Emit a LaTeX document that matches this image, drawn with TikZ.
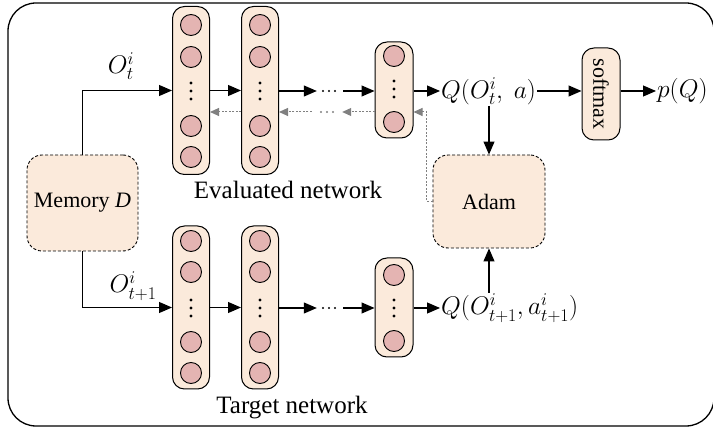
\RequirePackage{fix-cm}
\documentclass[tikz,border=0pt]{standalone}
\usepackage[no-math]{fontspec}
\setmainfont{Liberation Serif}
\usetikzlibrary{arrows.meta}
\definecolor{peach}{HTML}{FBEADB}
\definecolor{rose}{HTML}{E4B4B2}
\begin{document}
\begin{tikzpicture}[x=1pt,y=-1pt,
  col/.style={draw,fill=peach,rounded corners=12pt,minimum width=37pt,line width=1pt,inner sep=0pt},
  neuron/.style={circle,draw,fill=rose,minimum size=21pt,inner sep=0pt,line width=0.9pt},
  box/.style={draw,fill=peach,rounded corners=15pt,line width=0.9pt,dash pattern=on 3pt off 2pt,inner sep=0pt},
  arr/.style={-{Triangle[length=13pt,width=11pt]},line width=1.1pt},
  back/.style={-{Triangle[length=9pt,width=8pt]},draw=gray,dash pattern=on 2pt off 1.5pt,line width=1pt},
  lab/.style={font=\fontsize{25.5}{30}\selectfont,inner sep=1pt},
  txt/.style={font=\fontsize{22}{26}\selectfont},
  big/.style={font=\fontsize{25}{30}\selectfont,inner sep=0pt},
  dotsnode/.style={inner sep=0pt,minimum width=16pt,minimum height=3pt}]
\useasboundingbox (0,0) rectangle (713,430);
\draw[line width=1.3pt,rounded corners=28pt] (8,3) rectangle (714,426);

% evaluated network columns
\node[col,minimum height=168pt] (e1) at (191,90.5) {};
\node[col,minimum height=168pt] (e2) at (260,90.5) {};
\node[col,minimum height=96pt,minimum width=38pt] (e3) at (394,90) {};
\foreach \c in {e1,e2}{
  \foreach \y in {25,57,126,157}{\node[neuron] (\c n\y) at (\c |- 0,\y) {};}
  \foreach \d in {-8,0,8}{\fill (\c |- 0,91+\d) circle (1.6pt);}
}
\foreach \y in {56,122}{\node[neuron] (e3n\y) at (394,\y) {};}
\foreach \d in {-8,0,8}{\fill (394,89+\d) circle (1.6pt);}

% target network columns
\node[col,minimum height=163pt] (t1) at (191,307.5) {};
\node[col,minimum height=163pt] (t2) at (260,307.5) {};
\node[col,minimum height=99pt,minimum width=38pt] (t3) at (394,307.5) {};
\foreach \c in {t1,t2}{
  \foreach \y in {241,272,342,373}{\node[neuron] (\c n\y) at (\c |- 0,\y) {};}
  \foreach \d in {-8,0,8}{\fill (\c |- 0,308+\d) circle (1.6pt);}
}
\foreach \y in {275,341}{\node[neuron] (t3n\y) at (394,\y) {};}
\foreach \d in {-8,0,8}{\fill (394,308+\d) circle (1.6pt);}

% boxes
\node[box,minimum width=111pt,minimum height=96pt,txt] (mem) at (82.5,203) {Memory \textit{D}};
\node[box,minimum width=112pt,minimum height=93pt,txt] (adam) at (489,201.5) {Adam};
\node[draw,fill=peach,rounded corners=12pt,line width=1pt,rotate=-90,minimum width=92pt,minimum height=38pt,inner sep=0pt,txt] (sm) at (601,94) {softmax};

% labels
\node[lab] (lo) at (121,66) {$O_t^i$};
\node[lab] (lo2) at (133,286) {$O_{t+1}^i$};
\node[lab,anchor=west] (q) at (440,91) {$Q(O_t^i,\ a)$};
\node[lab,anchor=west] (q2) at (440,308) {$Q(O_{t+1}^i,a_{t+1}^i)$};
\node[lab,anchor=west] (pq) at (656,91) {$p(Q)$};
\node[big] (ev) at (288,190) {Evaluated network};
\node[big] (tn) at (292,408) {Target network};

% ellipsis markers
\node[dotsnode] (de) at (329,91) {};
\node[dotsnode] (dt) at (329,308) {};
\node[dotsnode] (db) at (327,112) {};
\foreach \n/\c in {de/black,dt/black,db/gray}{
  \foreach \dx in {-6,0,6}{\fill[\c] (\n) ++(\dx,0) circle (1.1pt);}
}

% evaluated flow
\draw[arr] (mem.north) |- (e1.west);
\draw[arr] (e1.east) -- (e2.west);
\draw[arr] (e2.east |- de) -- ([xshift=-4pt]de.west);
\draw[arr] ([xshift=6pt]de.east) -- (e3.west |- de);
\draw[arr] (e3.east |- de) -- (q.west);
\draw[arr] (q.east) -- (q.east -| sm.south);
\draw[arr] (q.east -| sm.north) -- (pq.west);
\draw[arr] (adam.north |- q.south) -- (adam.north);

% back propagation
\draw[back] (e3.west |- db) -- ([xshift=7pt]db.east);
\draw[back] ([xshift=-7pt]db.west) -- (e2.east |- db);
\draw[back] (e2.west |- db) -- (e1.east |- db);
\draw[back] (adam.west) -- ++(-6,0) |- (e3.east |- db);

% target flow
\draw[arr] (mem.south) |- (t1.west);
\draw[arr] (t1.east) -- (t2.west);
\draw[arr] (t2.east |- dt) -- ([xshift=-4pt]dt.west);
\draw[arr] ([xshift=6pt]dt.east) -- (t3.west |- dt);
\draw[arr] (t3.east |- dt) -- (q2.west);
\draw[arr] (adam.south |- q2.north) -- (adam.south);
\end{tikzpicture}
\end{document}
